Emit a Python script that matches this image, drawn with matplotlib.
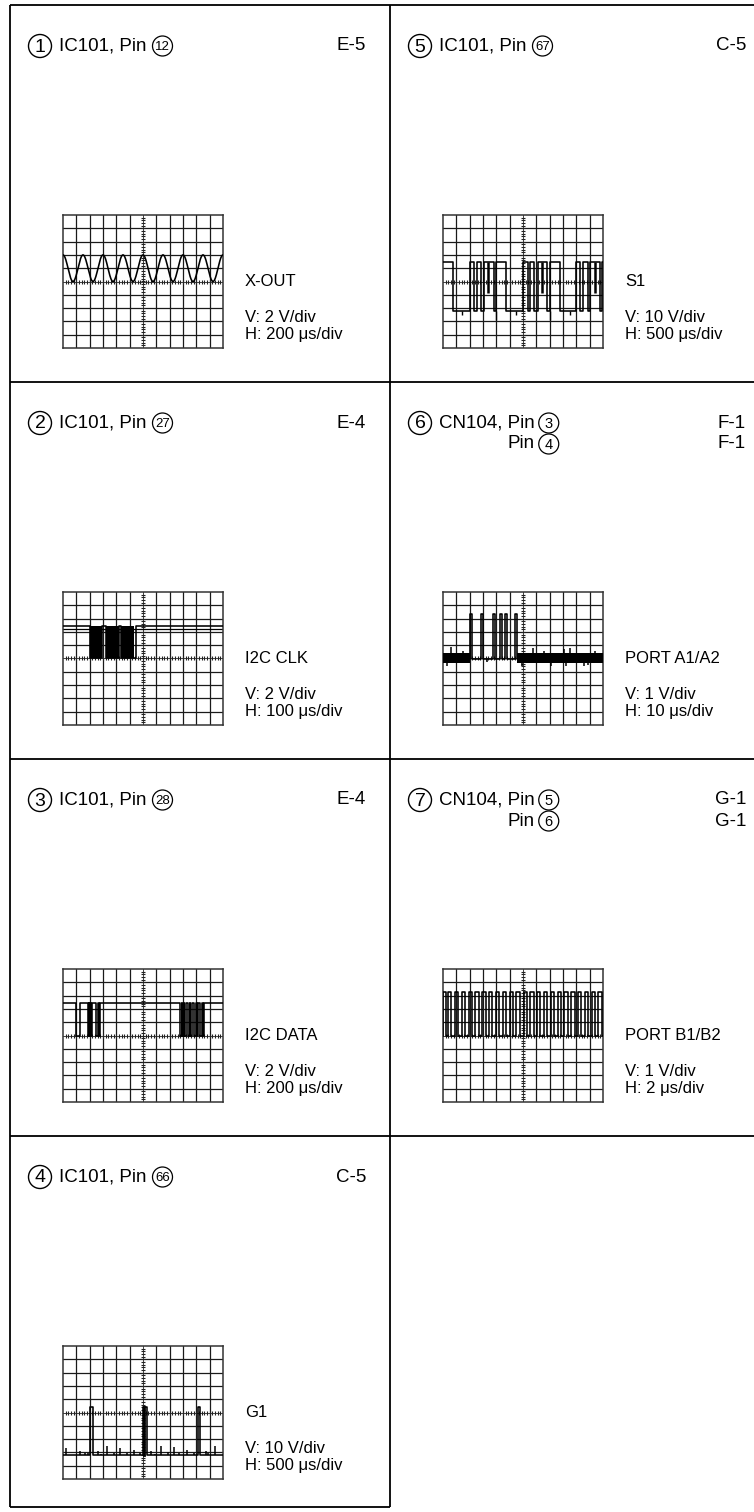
import numpy as np
import matplotlib
matplotlib.use("Agg")
import matplotlib.pyplot as plt
from matplotlib.patches import Circle

plt.rcParams['font.family'] = ['Liberation Sans', 'DejaVu Sans']

# ---- panel texts ----
panel_nums = ["1", "2", "3", "4", "5", "6", "7"]
panel_cells = [(0, 0), (0, 1), (0, 2), (0, 3), (1, 0), (1, 1), (1, 2)]  # (col, row)
probe_parts = ["IC101, Pin", "IC101, Pin", "IC101, Pin", "IC101, Pin",
               "IC101, Pin", "CN104, Pin", "CN104, Pin"]
probe_pins = [["12"], ["27"], ["28"], ["66"], ["67"], ["3", "4"], ["5", "6"]]
grid_refs = [["E-5"], ["E-4"], ["E-4"], ["C-5"], ["C-5"], ["F-1", "F-1"], ["G-1", "G-1"]]
signal_names = ["X-OUT", "I2C CLK", "I2C DATA", "G1", "S1", "PORT A1/A2", "PORT B1/B2"]
volt_div = ["2 V", "2 V", "2 V", "10 V", "10 V", "1 V", "1 V"]
time_div = ["200 \u03bcs", "100 \u03bcs", "200 \u03bcs", "500 \u03bcs",
            "500 \u03bcs", "10 \u03bcs", "2 \u03bcs"]

# ---- waveforms (x in divisions 0..12, y in divisions -5..5) ----
# 1: X-OUT sine
xout_period = 1.5
xout_low, xout_high = 0.0, 2.0

# 2: I2C CLK
clk_high, clk_high2, clk_low = 2.42, 2.25, 0.0
clk_bursts = [(2.0, 2.95), (3.2, 4.2), (4.35, 5.35)]
clk_edges = [2.0, 2.95, 3.2, 4.2, 4.35, 5.5]

# 3: I2C DATA
data_high, data_low = 2.45, 0.0
data_edges = [1.0, 1.25, 1.85, 1.92, 1.97, 2.05, 2.1, 2.2, 2.5, 2.6, 2.7, 2.8,
              8.8, 8.9, 8.95, 9.05, 9.1, 9.25, 9.4, 9.5, 9.55, 9.7, 9.8, 9.95,
              10.05, 10.15, 10.25, 10.4, 10.5, 10.6]

# 4: G1
g1_base, g1_high = -3.2, 0.45
g1_pulses = [(2.05, 2.25), (6.0, 6.3), (10.1, 10.3)]
g1_spike_x = [0.25, 1.25, 1.63, 1.88, 2.63, 2.83, 3.33, 3.8, 4.3, 4.8, 5.33, 5.75,
              6.63, 6.88, 7.33, 7.88, 8.33, 8.7, 9.33, 9.8, 10.7, 10.88, 11.38]
g1_spike_top = [-2.7, -2.9, -3.05, -3.05, -2.9, -3.1, -2.55, -3.05, -2.7, -3.05, -2.85, -3.05,
                -2.9, -3.1, -2.55, -2.95, -2.6, -3.05, -2.85, -3.05, -2.9, -3.05, -2.55]

# 5: S1
s1_high, s1_low = 1.5, -2.25
s1_edges = [0.75, 2.0, 2.35, 2.55, 2.85, 3.1, 3.8, 4.0, 4.75, 6.0, 6.35, 6.5, 6.85,
            7.1, 7.8, 8.05, 8.75, 10.0, 10.3, 10.5, 10.85, 11.05, 11.75, 11.9]
s1_mid_dips = [3.4, 7.4, 11.4]
s1_deep_dips = [4.0, 8.0]
s1_ticks = [1.45, 5.5, 9.5]

# 6: PORT A1/A2
pa_high, pa_base = 3.37, -0.05
pa_noise_lo, pa_noise_hi = -0.35, 0.4
pa_noise_spans = [(0.0, 2.0), (5.55, 12.0)]
pa_pulses = [(2.0, 2.2), (2.83, 3.0), (3.75, 3.9), (4.25, 4.4), (4.63, 4.8), (5.38, 5.55)]
pa_spike_x = [0.58, 6.75, 9.1, 9.5, 11.4, 0.32, 5.9, 8.1, 9.25, 3.3, 10.6, 1.5, 7.6, 10.9]
pa_spike_y = [0.85, 0.8, 0.75, 0.8, 0.6, -0.55, -0.6, -0.6, -0.55, -0.25, -0.55, 0.6, 0.6, -0.5]

# 7: PORT B1/B2
pb_high, pb_low, pb_width = 3.25, 0.0, 0.25
pb_rise = [0.0, 0.38, 0.88, 1.4, 1.92, 2.42, 2.95, 3.45, 3.97, 4.5, 5.0, 5.5,
           6.05, 6.55, 7.05, 7.55, 8.08, 8.6, 9.1, 9.62, 10.12, 10.65, 11.15, 11.65]

W, H = 754, 1512
COL_X = [10, 390]
ROW_Y = [5, 382, 759, 1136]

fig = plt.figure(figsize=(W / 100, H / 100), dpi=100)
page = fig.add_axes([0, 0, 1, 1])
page.set_xlim(0, W)
page.set_ylim(H, 0)
page.axis('off')
renderer = fig.canvas.get_renderer()

# frame lines
lk = dict(color='black', lw=1.3, solid_capstyle='butt')
page.plot([10, W], [5, 5], **lk)
page.plot([10, 10], [5, 1507], **lk)
page.plot([390, 390], [5, 1507], **lk)
for yy in ROW_Y[1:]:
    page.plot([10, W], [yy, yy], **lk)
page.plot([10, 390], [1507, 1507], **lk)


def square(edges, hi, lo, start_high=True):
    xs, ys = [0.0], []
    lvl = hi if start_high else lo
    ys.append(lvl)
    for e in edges:
        xs += [e, e]
        nxt = lo if lvl == hi else hi
        ys += [lvl, nxt]
        lvl = nxt
    xs.append(12.0)
    ys.append(lvl)
    return xs, ys


def scope(col, row):
    x0 = COL_X[col] + 53
    y0 = ROW_Y[row] + 210
    ax = fig.add_axes([x0 / W, 1 - (y0 + 133) / H, 160 / W, 133 / H])
    ax.set_xlim(0, 12)
    ax.set_ylim(-5, 5)
    ax.set_xticks([])
    ax.set_yticks([])
    for s in ax.spines.values():
        s.set_color('#333333')
        s.set_linewidth(1.1)
    for gx in range(1, 12):
        if gx != 6:
            ax.axvline(gx, color='#1a1a1a', lw=0.9, zorder=1)
    for gy in range(-4, 5):
        if gy != 0:
            ax.axhline(gy, color='#1a1a1a', lw=0.9, zorder=1)
    ax.axvline(6, color='#222222', lw=0.6, zorder=1)
    ax.axhline(0, color='#222222', lw=0.6, zorder=1)
    tx = np.arange(0.2, 12, 0.2)
    ax.plot(tx, np.zeros_like(tx), ls='none', marker='|', ms=3, mew=0.8, color='#222222', zorder=1)
    ty = np.arange(-4.8, 5, 0.2)
    ax.plot(np.full_like(ty, 6), ty, ls='none', marker='_', ms=3, mew=0.8, color='#222222', zorder=1)
    return ax, x0, y0


tr = dict(color='black', lw=1.15, zorder=3)

for i, (col, row) in enumerate(panel_cells):
    cx, ry = COL_X[col], ROW_Y[row]
    ty = ry + 41
    # title
    page.add_patch(Circle((cx + 30, ty), 11.5, fill=False, lw=1.0, color='black'))
    page.text(cx + 30, ty + 1, panel_nums[i], fontsize=14, ha='center', va='center')
    t = page.text(cx + 49, ty, probe_parts[i], fontsize=13.5, ha='left', va='center')
    end_x = t.get_window_extent(renderer).x1
    for k, pin in enumerate(probe_pins[i]):
        yk = ty + 21 * k
        r = 10
        pcx = end_x + (4 if len(pin) == 1 else 6) + r
        if k > 0:
            page.text(end_x, yk, "Pin", fontsize=13.5, ha='right', va='center')
        page.add_patch(Circle((pcx, yk), r, fill=False, lw=0.9, color='black'))
        page.text(pcx, yk + 1, pin, fontsize=10.5 if len(pin) == 1 else 9.5,
                  ha='center', va='center')
        page.text(cx + 356, yk, grid_refs[i][k], fontsize=13.5, ha='right', va='center')

    ax, gx0, gy0 = scope(col, row)
    lx = gx0 + 182
    cy = gy0 + 66.5
    page.text(lx, cy, signal_names[i], fontsize=12, ha='left', va='center')
    page.text(lx, cy + 36, "V: " + volt_div[i] + "/div", fontsize=12, ha='left', va='center')
    page.text(lx, cy + 53, "H: " + time_div[i] + "/div", fontsize=12, ha='left', va='center')

    name = signal_names[i]
    if name == "X-OUT":
        xs = np.linspace(0, 12, 800)
        ys = xout_low + (xout_high - xout_low) * (1 + np.cos(2 * np.pi * xs / xout_period)) / 2
        ax.plot(xs, ys, **tr)
    elif name == "I2C CLK":
        xs, ys = square(clk_edges, clk_high, clk_low)
        ax.plot(xs, ys, **tr)
        ax.plot([0, 12], [clk_high2, clk_high2], color='black', lw=0.9, zorder=2)
        for a, b in clk_bursts:
            ax.fill_between([a, b], clk_low, clk_high, color='black', lw=0, zorder=3)
    elif name == "I2C DATA":
        xs, ys = square(data_edges, data_high, data_low)
        ax.plot(xs, ys, **tr)
    elif name == "G1":
        edges = [e for p in g1_pulses for e in p]
        xs, ys = square(edges, g1_high, g1_base, start_high=False)
        ax.plot(xs, ys, **tr)
        ax.vlines(g1_spike_x, g1_base, g1_spike_top, color='black', lw=1.1, zorder=3)
        ax.plot([6.05, 6.05], [g1_base, g1_high], color='black', lw=2.0, zorder=3)
    elif name == "S1":
        xs, ys = square(s1_edges, s1_high, s1_low)
        ax.plot(xs, ys, **tr)
        ax.vlines(s1_mid_dips, -0.9, s1_high, color='black', lw=1.8, zorder=3)
        ax.vlines(s1_deep_dips, -2.9, s1_low, color='black', lw=1.0, zorder=3)
        ax.vlines(s1_ticks, -2.5, s1_low, color='black', lw=1.0, zorder=3)
    elif name == "PORT A1/A2":
        edges = [e for p in pa_pulses for e in p]
        xs, ys = square(edges, pa_high, pa_base, start_high=False)
        ax.plot(xs, ys, **tr)
        for a, b in pa_noise_spans:
            ax.fill_between([a, b], pa_noise_lo, pa_noise_hi,
                            color='black', lw=0, zorder=3)
        ax.vlines(pa_spike_x, pa_base, pa_spike_y, color='black', lw=1.1, zorder=3)
    elif name == "PORT B1/B2":
        edges = [e for r0 in pb_rise for e in (r0, min(r0 + pb_width, 12.0))]
        xs, ys = square(edges, pb_high, pb_low, start_high=False)
        ax.plot(xs, ys, **tr)

fig.savefig("out.png", dpi=100)
